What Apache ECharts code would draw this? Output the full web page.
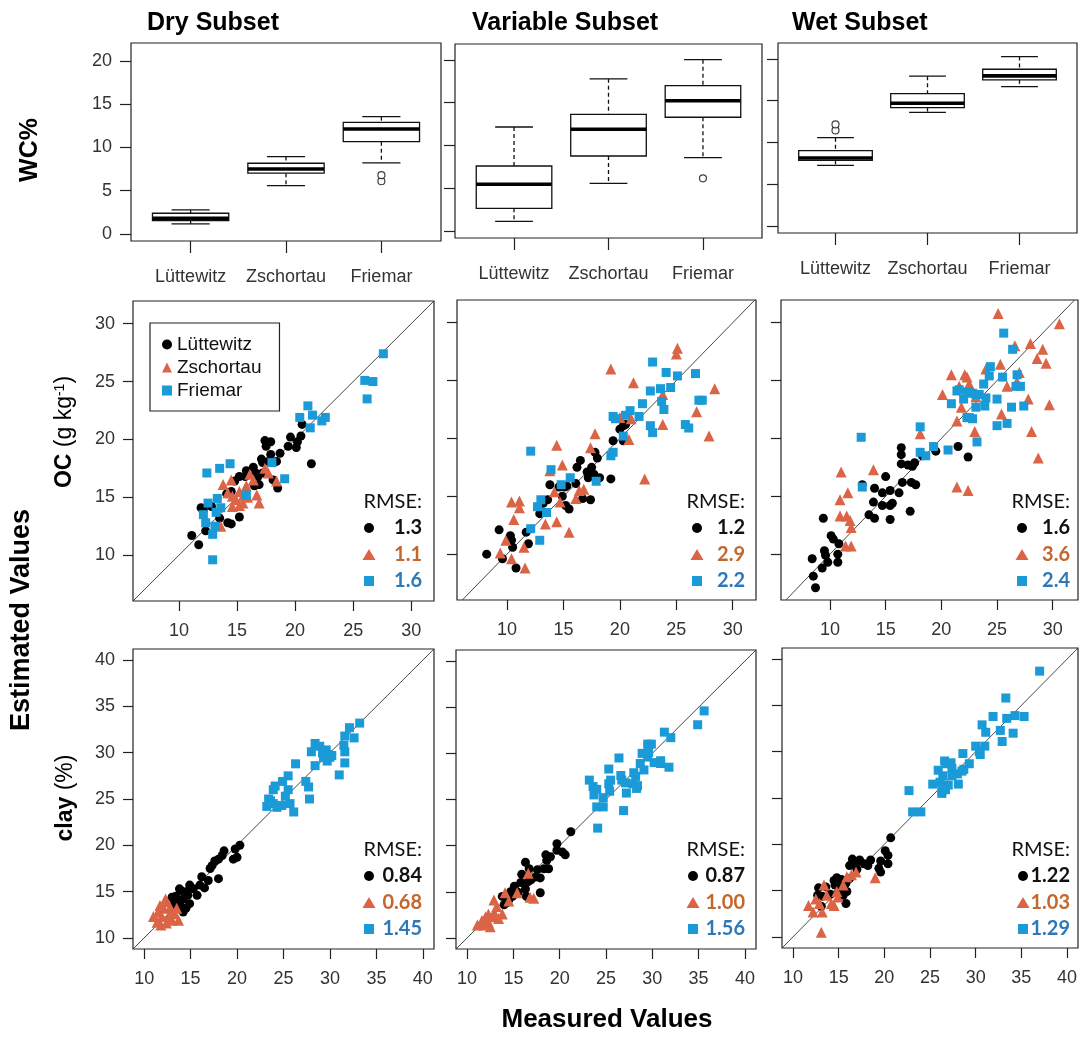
<!DOCTYPE html>
<html><head><meta charset="utf-8">
<script src="https://cdn.jsdelivr.net/npm/echarts@6/dist/echarts.min.js"></script>
<style>html,body{margin:0;padding:0;background:#fff}#c{width:1081px;height:1038px}</style>
</head><body><div id="c"></div>
<script>
// ---------- DATA ----------
const sites = ['Lüttewitz', 'Zschortau', 'Friemar'];
const subsets = ['Dry Subset', 'Variable Subset', 'Wet Subset'];
const wcTicks = [0, 5, 10, 15, 20];
const ocTicks = [10, 15, 20, 25, 30];
const clayTicks = [10, 15, 20, 25, 30, 35, 40];

// boxplot stats per site: [lower whisker, Q1, median, Q3, upper whisker]
const wcDry = [[1.16, 1.54, 1.81, 2.39, 2.77], [5.59, 7.02, 7.51, 8.17, 8.94], [8.21, 10.67, 12.14, 12.9, 13.56]];
const wcVar = [[1.13, 2.65, 5.46, 7.6, 12.16], [5.58, 8.77, 11.9, 13.65, 17.8], [8.57, 13.3, 15.24, 17.0, 20.04]];
const wcWet = [[7.26, 7.86, 8.14, 9.02, 10.57], [13.6, 14.17, 14.69, 15.85, 17.93], [16.68, 17.49, 17.96, 18.76, 20.28]];
// outliers: [site number, value]
const wcDryOut = [[3, 6.09], [3, 6.79]];
const wcVarOut = [[3, 6.16]];
const wcWetOut = [[1, 11.44], [1, 12.16]];

// OC scatter [measured, estimated]
const ocDryL = [[11.1,11.7],[11.7,10.9],[12.3,12.1],[11.9,14.1],[12.1,13.9],[12.8,14.2],[13.5,13.2],[14.2,12.8],[14.5,12.7],[15.2,13.3],[14.1,15.3],[14.5,15.5],[14.8,16.4],[15.2,16.8],[15.7,16.8],[16.4,17.6],[16.5,16.0],[16.9,16.1],[16.8,16.8],[17.2,17.1],[17.2,18.0],[17.1,18.3],[17.4,19.9],[17.9,19.8],[17.5,19.4],[17.9,18.7],[17.7,18.1],[18.1,16.5],[18.5,15.8],[18.4,18.1],[18.7,18.8],[19.4,19.4],[19.6,20.2],[20.1,19.3],[20.2,19.8],[20.5,20.3],[20.6,21.3],[21.4,17.9],[15.8,17.3],[16.6,17.1]];
const ocDryZ = [[13.8,16.1],[14.2,15.4],[14.6,15.1],[14.9,14.8],[15.2,15.5],[15.5,14.5],[15.8,16.0],[16.1,17.0],[16.4,16.5],[16.7,15.2],[16.9,14.5],[17.4,17.5],[17.7,17.1],[18.4,16.4],[13.6,12.5],[14.6,14.2],[15.2,14.3],[15.9,15.0],[14.5,16.5],[15.5,15.1]];
const ocDryF = [[27.6,27.4],[26.0,25.1],[26.7,25.0],[26.2,23.5],[21.1,22.9],[20.4,21.9],[21.5,22.1],[21.3,21.0],[22.3,21.6],[22.6,21.9],[19.1,16.6],[12.4,17.1],[13.5,17.5],[14.4,17.9],[13.3,14.9],[12.5,14.5],[12.1,13.5],[12.3,12.8],[13.1,12.5],[12.9,11.8],[13.2,13.7],[12.9,9.6],[15.8,15.2],[18.0,18.0],[13.6,14.1]];
const ocVarL = [[8.2,10.0],[9.6,9.6],[9.3,12.1],[10.3,11.6],[10.4,11.2],[10.5,10.6],[10.8,8.8],[11.7,11.9],[11.9,10.9],[12.9,13.5],[13.2,14.4],[13.6,14.7],[13.5,13.6],[13.8,16.0],[14.6,15.8],[14.9,15.0],[15.2,14.2],[15.5,13.9],[15.3,15.9],[16.1,16.1],[16.2,17.5],[16.5,18.1],[17.1,17.1],[17.2,16.6],[17.4,14.7],[16.7,14.8],[17.5,17.5],[17.7,16.9],[18.0,18.3],[17.8,18.8],[18.2,16.6],[19.2,16.5],[19.4,19.8],[20.0,20.8],[20.3,19.8],[20.3,21.1],[20.5,21.2],[15.1,15.8]];
const ocVarZ = [[9.4,10.1],[10.4,9.6],[11.6,8.8],[9.9,11.2],[11.5,10.6],[10.4,14.5],[11.1,14.6],[11.1,14.0],[10.6,13.0],[13.4,12.6],[14.4,12.8],[15.5,11.9],[14.7,14.5],[13.8,17.2],[14.9,17.7],[14.4,19.4],[14.2,15.4],[16.1,14.8],[16.4,15.5],[16.8,15.6],[17.4,19.2],[17.8,20.4],[19.2,26.0],[21.2,24.8],[20.0,21.8],[21.0,21.7],[20.8,19.9],[23.8,23.8],[23.8,21.2],[25.1,27.8],[25.0,27.3],[28.4,24.3],[26.8,22.3],[27.9,20.2],[22.2,16.5]];
const ocVarF = [[12.1,18.9],[12.9,11.2],[12.1,12.2],[13.0,14.7],[12.7,14.1],[13.5,13.6],[13.9,17.3],[14.8,16.0],[15.6,16.6],[17.9,16.3],[19.2,18.5],[19.4,18.8],[19.4,21.9],[19.6,21.7],[20.5,22.0],[20.9,22.4],[21.7,21.9],[20.3,20.2],[22.0,23.0],[22.7,24.1],[22.9,26.6],[23.6,24.3],[23.7,23.2],[23.9,22.5],[24.1,25.7],[24.5,24.4],[25.1,25.4],[26.7,25.6],[27.0,23.3],[27.3,23.3],[22.7,21.1],[22.9,20.5],[25.8,21.2],[26.1,20.9]];
const ocWetL = [[8.4,9.6],[8.5,8.1],[8.7,7.1],[9.3,8.8],[9.5,10.3],[9.6,9.9],[9.8,9.3],[10.1,11.6],[10.3,11.3],[10.7,10.0],[10.7,9.3],[10.8,10.9],[9.4,13.1],[12.9,16.0],[13.5,13.4],[14.0,13.1],[13.9,14.5],[14.0,15.7],[14.7,15.3],[15.0,16.7],[14.7,14.2],[15.4,14.2],[15.4,13.0],[15.6,14.4],[15.4,15.5],[16.2,15.3],[16.4,17.8],[16.4,18.6],[16.4,19.2],[16.5,16.2],[17.0,17.7],[17.4,17.6],[17.6,17.9],[17.3,16.2],[17.7,16.0],[17.2,13.7],[18.3,18.5],[19.5,18.9],[21.5,19.3],[22.4,18.4]];
const ocWetZ = [[11.0,17.1],[10.9,14.7],[11.6,15.3],[10.9,13.3],[11.5,13.3],[11.8,12.9],[11.9,12.3],[11.4,10.7],[11.9,10.7],[13.9,17.3],[18.1,20.4],[20.1,23.8],[20.9,25.5],[21.4,15.8],[22.4,15.5],[21.4,21.5],[21.6,24.5],[21.8,22.7],[22.1,25.5],[22.3,25.3],[22.5,24.7],[23.0,20.6],[23.1,23.6],[24.0,26.0],[25.1,30.8],[25.3,26.4],[25.9,24.5],[25.4,22.1],[26.6,28.0],[26.7,24.7],[27.0,25.7],[26.8,24.9],[28.0,28.2],[28.6,26.9],[29.1,27.7],[29.4,26.5],[27.8,23.4],[29.7,22.9],[28.1,20.6],[28.7,18.3],[30.6,29.9]];
const ocWetF = [[12.8,20.1],[12.9,15.8],[18.1,21.0],[18.1,18.8],[18.6,18.5],[19.3,19.3],[20.6,19.0],[20.9,23.0],[21.4,24.1],[21.6,24.2],[22.0,23.4],[22.3,24.0],[22.5,24.0],[22.8,23.9],[23.1,23.8],[23.4,23.8],[23.8,24.7],[24.0,23.5],[24.3,25.4],[24.4,26.2],[22.3,21.8],[22.8,21.7],[23.1,22.7],[23.2,19.7],[23.9,22.8],[25.0,23.4],[25.0,21.1],[25.5,25.3],[25.6,29.1],[25.9,21.3],[26.3,22.7],[26.4,27.7],[26.7,24.5],[27.1,24.5],[26.8,25.5],[27.4,22.8],[22.5,21.8]];

// clay scatter [measured, estimated]
const clayDryL = [[20.3,20.0],[19.8,19.6],[20.0,18.7],[19.6,18.5],[18.6,19.4],[18.4,18.9],[18.0,18.5],[17.6,18.3],[17.3,17.8],[17.1,17.5],[18.0,16.4],[16.9,16.2],[16.2,16.6],[16.0,15.7],[16.5,15.4],[14.9,15.7],[15.3,15.3],[14.7,14.6],[14.0,15.1],[13.8,15.3],[14.2,14.2],[13.7,13.9],[13.9,13.5],[13.2,13.7],[13.4,14.5],[13.0,14.4],[14.5,13.2],[14.9,13.7],[14.2,12.8],[13.6,13.3],[14.6,15.0],[15.7,14.6]];
const clayDryZ = [[11.7,13.5],[11.5,12.8],[12.1,13.2],[12.4,13.9],[12.8,13.3],[11.9,12.3],[11.4,11.7],[12.4,11.6],[13.0,11.9],[13.7,11.9],[13.3,12.6],[12.6,12.3],[11.0,12.3],[12.3,14.2],[13.0,12.8],[11.8,11.4],[13.5,13.2]];
const clayDryF = [[33.2,33.2],[32.1,32.7],[32.6,31.6],[31.6,31.8],[31.5,30.8],[31.6,30.1],[31.6,28.9],[31.0,27.6],[28.4,31.0],[28.0,30.1],[28.4,28.6],[28.9,30.7],[29.2,30.0],[29.6,30.3],[29.8,29.8],[30.0,29.5],[30.2,29.7],[29.7,29.1],[29.3,29.5],[27.4,26.9],[27.7,26.3],[27.8,25.0],[26.3,28.8],[25.5,27.5],[24.9,26.9],[24.1,26.4],[23.9,26.0],[23.4,25.0],[23.6,24.8],[23.9,24.5],[24.3,24.1],[24.8,24.3],[25.7,24.5],[26.1,23.6],[25.5,26.0],[25.2,25.3],[23.2,24.2]];
const clayVarL = [[21.2,21.5],[19.7,20.2],[19.7,19.5],[20.6,19.0],[20.3,19.3],[19.0,18.8],[18.5,19.0],[18.6,18.4],[18.8,17.5],[18.3,17.5],[17.6,17.4],[17.4,16.6],[17.9,16.5],[17.9,14.9],[16.3,18.2],[15.9,16.9],[16.6,16.1],[16.9,16.3],[16.3,15.3],[15.8,16.0],[15.4,15.0],[15.1,15.6],[14.7,15.0],[14.2,14.5],[13.8,14.5],[14.5,14.1],[14.0,13.6],[14.3,13.8],[14.9,14.5],[16.4,14.5],[15.5,14.9],[16.7,17.5]];
const clayVarZ = [[11.1,11.4],[11.8,11.4],[12.3,11.7],[12.7,12.3],[13.0,12.6],[12.5,11.2],[13.4,12.1],[12.9,14.1],[13.2,13.4],[14.5,14.0],[15.4,14.9],[16.8,14.4],[17.2,14.3],[16.6,17.0],[12.0,12.3],[11.6,11.9],[13.8,12.6],[14.1,14.9],[12.3,12.6]];
const clayVarF = [[35.6,34.6],[34.9,33.1],[31.3,32.3],[32.0,31.7],[29.5,31.0],[29.9,31.0],[28.9,30.0],[26.4,29.5],[25.3,28.3],[25.5,27.1],[25.3,26.7],[26.6,27.6],[26.7,27.1],[27.1,26.8],[27.2,25.7],[28.0,27.9],[28.2,27.5],[27.9,26.7],[28.3,26.2],[28.4,26.5],[28.7,28.9],[29.1,28.2],[29.5,29.6],[30.2,29.0],[30.9,28.9],[30.9,29.2],[31.8,28.5],[29.6,30.1],[23.2,27.1],[23.6,26.4],[23.7,25.5],[24.0,26.1],[24.7,25.2],[24.0,24.2],[24.7,24.2],[26.9,23.8],[24.1,21.9],[25.4,25.9]];
const clayWetL = [[20.7,20.7],[20.1,19.3],[20.4,18.8],[20.4,17.9],[19.6,18.2],[19.4,17.4],[19.6,17.0],[18.5,18.3],[18.2,17.7],[17.8,17.9],[17.3,18.3],[16.6,18.2],[16.5,18.4],[16.9,17.9],[16.2,17.7],[17.0,17.3],[16.2,16.3],[15.8,15.8],[15.3,16.2],[14.8,16.4],[14.5,16.1],[14.6,15.6],[15.1,15.2],[15.6,15.6],[15.9,14.9],[15.5,14.5],[14.9,14.7],[13.6,15.4],[12.8,15.3],[12.7,14.5],[13.2,14.4],[14.1,14.6],[13.1,13.3],[15.8,13.6],[15.4,15.9],[15.1,15.8]];
const clayWetZ = [[11.7,13.4],[12.2,12.7],[13.2,12.7],[13.4,15.6],[14.2,13.6],[14.5,13.4],[14.9,14.3],[14.8,14.9],[15.5,15.6],[15.9,16.5],[16.4,16.7],[16.9,17.0],[19.0,16.4],[13.1,10.5],[12.5,14.1],[13.7,14.5],[12.9,13.6]];
const clayWetF = [[37.0,38.7],[33.3,35.8],[33.4,33.6],[34.3,33.9],[35.3,33.8],[31.9,33.8],[30.7,32.9],[31.1,32.1],[32.7,32.3],[34.1,32.0],[32.9,31.1],[30.0,30.6],[31.0,30.6],[30.4,30.0],[30.5,29.7],[28.6,29.8],[29.3,28.7],[26.6,29.0],[26.8,28.7],[27.3,28.8],[27.4,28.2],[25.9,28.0],[26.4,27.4],[27.4,27.4],[28.0,27.6],[28.5,27.9],[28.7,28.1],[28.1,26.5],[27.0,26.4],[26.7,25.9],[26.3,25.5],[26.3,25.8],[25.3,26.5],[23.1,23.5],[24.0,23.5],[22.7,25.8],[26.1,26.7]];

// RMSE per panel, order: Lüttewitz, Zschortau, Friemar
const rmseOC = [['1.3', '1.1', '1.6'], ['1.2', '2.9', '2.2'], ['1.6', '3.6', '2.4']];
const rmseClay = [['0.84', '0.68', '1.45'], ['0.87', '1.00', '1.56'], ['1.22', '1.03', '1.29']];

// ---------- STYLE / LAYOUT ----------
const FONT = 'Liberation Sans';
const C_L = '#000000', C_Z = '#DB6446', C_F = '#1A9AD6';
const T_Z = '#C4672D', T_F = '#2C78B8';
const grids = [
  {left:131, top:43, width:310, height:198},
  {left:455, top:44, width:307, height:194},
  {left:778, top:43, width:299, height:190},
  {left:133, top:301, width:301, height:300},
  {left:457, top:300, width:299, height:300},
  {left:781, top:300, width:297, height:300},
  {left:133, top:649, width:301, height:300},
  {left:456, top:650, width:300, height:299},
  {left:782, top:648, width:296, height:300}
];
const wcRanges = [[-0.82, 22.08], [-0.82, 21.87], [-0.84, 21.9]];
const ocXRanges = [[6.04, 31.96], [5.57, 32.06], [5.6, 32.27]];
const ocYRange = [6.04, 31.96];
const clayRange = [8.8, 41.2];

function axis(type, gi, range, ticks, showLabel, margin, tickLen, fmt) {
  return {
    type: 'value', gridIndex: gi, min: range[0], max: range[1],
    axisLine: {show: false, onZero: false},
    splitLine: {show: false},
    axisTick: {show: true, inside: false, length: tickLen, customValues: ticks, lineStyle: {color: '#222', width: 1.2}},
    axisLabel: {show: showLabel, customValues: ticks, margin: margin, fontFamily: FONT, fontSize: 18, color: '#333',
      formatter: fmt || (v => String(v))}
  };
}

const xAxes = [], yAxes = [], series = [];
// boxplots
const wcSets = [wcDry, wcVar, wcWet];
const wcOuts = [wcDryOut, wcVarOut, wcWetOut];
function renderBox(params, api) {
  const x = api.value(0);
  const pLo = api.coord([x, api.value(1)]), pQ1 = api.coord([x, api.value(2)]);
  const pMd = api.coord([x, api.value(3)]), pQ3 = api.coord([x, api.value(4)]);
  const pHi = api.coord([x, api.value(5)]);
  const w = api.size([0.8, 0])[0];
  const cx = pMd[0];
  const ln = {stroke: '#111', lineWidth: 1.3};
  const dash = {stroke: '#111', lineWidth: 1.3, lineDash: [4, 3]};
  return {type: 'group', children: [
    {type: 'line', shape: {x1: cx, y1: pHi[1], x2: cx, y2: pQ3[1]}, style: dash},
    {type: 'line', shape: {x1: cx, y1: pQ1[1], x2: cx, y2: pLo[1]}, style: dash},
    {type: 'line', shape: {x1: cx - w / 4, y1: pHi[1], x2: cx + w / 4, y2: pHi[1]}, style: ln},
    {type: 'line', shape: {x1: cx - w / 4, y1: pLo[1], x2: cx + w / 4, y2: pLo[1]}, style: ln},
    {type: 'rect', shape: {x: cx - w / 2, y: pQ3[1], width: w, height: pQ1[1] - pQ3[1]}, style: {fill: '#fff', stroke: '#111', lineWidth: 1.3}},
    {type: 'line', shape: {x1: cx - w / 2, y1: pMd[1], x2: cx + w / 2, y2: pMd[1]}, style: {stroke: '#000', lineWidth: 3.6}}
  ]};
}
for (let i = 0; i < 3; i++) {
  xAxes.push(axis('x', i, [0.375, 3.625], [1, 2, 3], true, 27, 12, v => sites[Math.round(v) - 1]));
  yAxes.push(axis('y', i, wcRanges[i], wcTicks, i === 0, 19, 11));
  series.push({type: 'custom', name: 'box' + i, xAxisIndex: i, yAxisIndex: i, renderItem: renderBox,
    encode: {x: 0, y: [1, 2, 3, 4, 5]}, data: wcSets[i].map((s, k) => [k + 1].concat(s)), z: 3});
  series.push({type: 'scatter', name: 'out' + i, xAxisIndex: i, yAxisIndex: i, symbol: 'circle', symbolSize: 7,
    itemStyle: {color: '#fff', borderColor: '#111', borderWidth: 1.2}, data: wcOuts[i], z: 4});
}
// scatter panels
const ocSets = [[ocDryL, ocDryZ, ocDryF], [ocVarL, ocVarZ, ocVarF], [ocWetL, ocWetZ, ocWetF]];
const claySets = [[clayDryL, clayDryZ, clayDryF], [clayVarL, clayVarZ, clayVarF], [clayWetL, clayWetZ, clayWetF]];
const symbols = ['circle', 'triangle', 'rect'];
const sizes = [9, 11, 9];
const colors = [C_L, C_Z, C_F];
function addScatter(gi, xr, yr, ticks, sets) {
  xAxes.push(axis('x', gi, xr, ticks, true, 21, 10));
  yAxes.push(axis('y', gi, yr, ticks, gi === 3 || gi === 6, 18, 10));
  const lo = Math.max(xr[0], yr[0]), hi = Math.min(xr[1], yr[1]);
  series.push({type: 'line', name: 'one' + gi, xAxisIndex: gi, yAxisIndex: gi, data: [[lo, lo], [hi, hi]],
    symbol: 'none', silent: true, lineStyle: {color: '#333', width: 0.9}, z: 1});
  for (let s = 0; s < 3; s++) {
    series.push({type: 'scatter', name: sites[s], xAxisIndex: gi, yAxisIndex: gi, symbol: symbols[s],
      symbolSize: sizes[s], itemStyle: {color: colors[s], opacity: 1}, data: sets[s], z: 2 + s});
  }
}
for (let i = 0; i < 3; i++) addScatter(3 + i, ocXRanges[i], ocYRange, ocTicks, ocSets[i]);
for (let i = 0; i < 3; i++) addScatter(6 + i, clayRange, clayRange, clayTicks, claySets[i]);

// ---------- TEXT GRAPHICS ----------
const graphics = [];
function text(t, x, y, st, rot) {
  const el = {type: 'text', x: x, y: y, silent: true,
    style: Object.assign({text: t, fill: '#000', fontFamily: FONT, fontSize: 18, align: 'left', verticalAlign: 'middle'}, st)};
  if (rot) el.rotation = rot;
  return el;
}
const titleX = [147, 472, 792];
for (let i = 0; i < 3; i++) graphics.push(text(subsets[i], titleX[i], 23, {fontSize: 25, fontWeight: 'bold'}));
graphics.push(text('WC%', 30, 150, {fontSize: 25, fontWeight: 'bold', align: 'center'}, Math.PI / 2));
graphics.push(text('Estimated Values', 22, 620, {fontSize: 27, fontWeight: 'bold', align: 'center'}, Math.PI / 2));
graphics.push(text('Measured Values', 607, 1020, {fontSize: 26, fontWeight: 'bold', align: 'center'}));
graphics.push(text('{b|OC} (g kg{s|-1})', 65, 432, {fontSize: 23, align: 'center',
  rich: {b: {fontWeight: 'bold', fontSize: 23, fontFamily: FONT}, s: {fontSize: 14, fontFamily: FONT, verticalAlign: 'top'}}}, Math.PI / 2));
graphics.push(text('{b|clay} (%)', 66, 798, {fontSize: 23, align: 'center',
  rich: {b: {fontWeight: 'bold', fontSize: 23, fontFamily: FONT}}}, Math.PI / 2));

// RMSE blocks
const rmseXR = [422, 745, 1070];
const rmseXM = [[369, 697, 1022], [369, 693, 1023]];
const rmseYB = [601, 949];
const numColors = ['#111', T_Z, T_F];
[rmseOC, rmseClay].forEach((vals, row) => {
  for (let p = 0; p < 3; p++) {
    const xr = rmseXR[p], xm = rmseXM[row][p], yb = rmseYB[row];
    graphics.push(text('RMSE:', xr, yb - 99, {fontFamily: 'Lato', fontSize: 20, align: 'right', fill: '#111'}));
    const ys = [yb - 73, yb - 46, yb - 20];
    graphics.push({type: 'circle', silent: true, shape: {cx: xm, cy: ys[0], r: 5}, style: {fill: C_L}});
    graphics.push({type: 'polygon', silent: true, shape: {points: [[xm - 6.5, ys[1] + 5], [xm + 6.5, ys[1] + 5], [xm, ys[1] - 6]]}, style: {fill: C_Z}});
    graphics.push({type: 'rect', silent: true, shape: {x: xm - 5, y: ys[2] - 5, width: 10, height: 10}, style: {fill: C_F}});
    for (let s = 0; s < 3; s++) {
      graphics.push(text(vals[p][s], xr, ys[s], {fontFamily: 'Lato', fontWeight: 'bold', fontSize: 20, align: 'right', fill: numColors[s]}));
    }
  }
});

const option = {
  backgroundColor: '#fff',
  animation: false,
  grid: grids.map(g => Object.assign({show: true, borderColor: '#222', borderWidth: 1.2, backgroundColor: 'transparent'}, g)),
  xAxis: xAxes,
  yAxis: yAxes,
  legend: {
    data: [{name: sites[0], icon: 'circle'}, {name: sites[1], icon: 'triangle'}, {name: sites[2], icon: 'rect'}],
    orient: 'vertical', left: 150, top: 323, padding: [12, 18, 11, 12], itemGap: 4,
    itemWidth: 10, itemHeight: 10, selectedMode: false,
    borderColor: '#222', borderWidth: 1.2, backgroundColor: '#fff',
    textStyle: {fontFamily: FONT, fontSize: 19, color: '#111'}
  },
  series: series,
  graphic: graphics
};
const chart = echarts.init(document.getElementById('c'), null, {renderer: 'canvas'});
chart.setOption(option);
</script>
</body></html>
